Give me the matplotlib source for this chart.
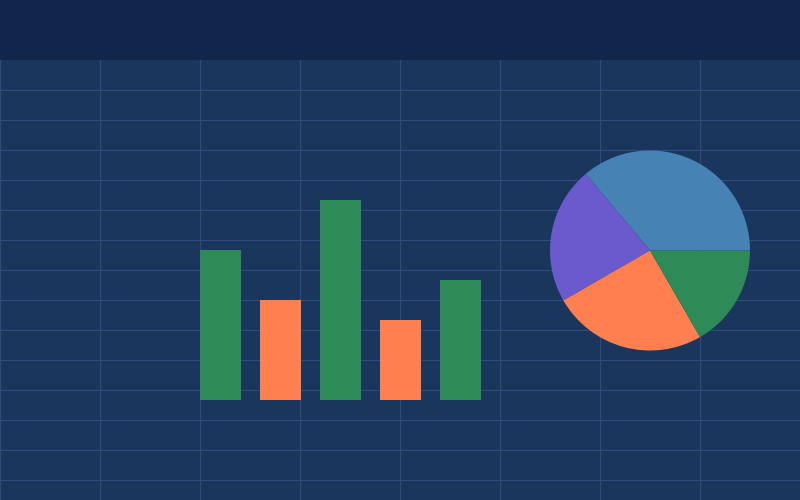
import matplotlib
matplotlib.use("Agg")
import matplotlib.pyplot as plt

# bar data (heights in pixels-ish units above baseline)
bar_x = [220, 280, 340, 400, 460]
bar_heights = [150, 100, 200, 80, 120]
bar_colors = ["#2e8b57", "#ff7f50", "#2e8b57", "#ff7f50", "#2e8b57"]

# pie data
pie_values = [13, 8, 9, 6]
pie_colors = ["#4682b4", "#6a5acd", "#ff7f50", "#2e8b57"]

BG = "#1b365d"
HEADER = "#10264a"
GRID = "#2e4b80"

fig = plt.figure(figsize=(8, 5), dpi=100)
fig.patch.set_facecolor(BG)
ax = fig.add_axes([0, 0, 1, 1])
ax.set_facecolor(BG)

# bars sit on a baseline 100 units above the bottom
ax.bar(bar_x, bar_heights, width=41, bottom=100, color=bar_colors, zorder=2)

ax.pie(pie_values, colors=pie_colors, center=(650, 249.5), radius=100,
       startangle=0, counterclock=True, frame=True,
       wedgeprops={"linewidth": 0, "zorder": 2})

# header band
ax.axhspan(440, 500, color=HEADER, zorder=3, linewidth=0)

ax.set_xlim(0, 800)
ax.set_ylim(0, 500)
ax.set_aspect("auto")
ax.set_xticks(range(0, 800, 100))
ax.set_yticks(range(20, 411, 30))
ax.grid(True, color=GRID, linewidth=0.8)
ax.set_axisbelow(True)
ax.tick_params(length=0, labelbottom=False, labelleft=False)
for s in ax.spines.values():
    s.set_visible(False)

plt.savefig("out.png", dpi=100, facecolor=BG)
